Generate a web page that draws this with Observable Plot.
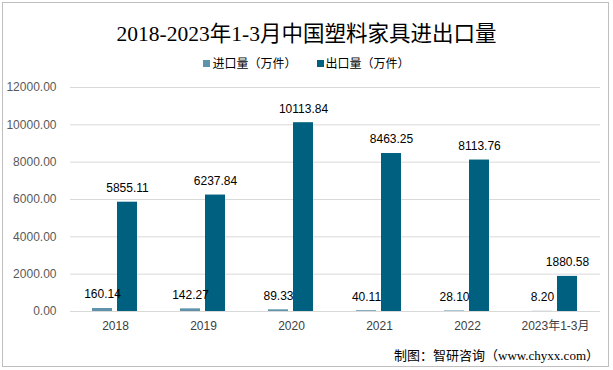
<!DOCTYPE html>
<html><head><meta charset="utf-8">
<script src="https://cdn.jsdelivr.net/npm/d3@7"></script>
<script src="https://cdn.jsdelivr.net/npm/@observablehq/plot@0.6"></script>
<style>
body{margin:0;background:#fff;}
#wrap{position:relative;width:613px;height:370px;overflow:hidden;font-family:"Liberation Sans","Noto Sans CJK SC",sans-serif;}
#frame{position:absolute;left:2px;top:2px;width:605px;height:363px;border:1px solid #bfbfbf;}
#title{position:absolute;left:0;top:16px;width:613px;text-align:center;font-family:"Liberation Serif","Noto Sans CJK SC",serif;font-size:21.5px;color:#000;}
#legend{position:absolute;left:0;top:54px;width:613px;text-align:center;font-size:12px;color:#000;}
#legend span.item{margin:0 10px;}
#legend i{display:inline-block;width:7px;height:7px;margin-right:2px;vertical-align:1px;}
#chart{position:absolute;left:0;top:80px;}
#footer{position:absolute;right:14px;top:345px;font-size:13px;color:#000;font-family:"Liberation Serif","Noto Sans CJK SC",serif;}
</style></head>
<body>
<div id="wrap">
<div id="frame"></div>
<div id="title">2018-2023年1-3月中国塑料家具进出口量</div>
<div id="legend"><span class="item"><i style="background:#5f93ab"></i>进口量（万件）</span><span class="item"><i style="background:#00607f"></i>出口量（万件）</span></div>
<div id="chart"></div>
<div id="footer">制图：智研咨询（www.chyxx.com）</div>
</div>
<script>
const years = ["2018","2019","2020","2021","2022","2023年1-3月"];
const imports = [160.14, 142.27, 89.33, 40.11, 28.10, 8.20];
const exports = [5855.11, 6237.84, 10113.84, 8463.25, 8113.76, 1880.58];
const yTicks = [0, 2000, 4000, 6000, 8000, 10000, 12000];
const importColor = "#5f93ab";
const exportColor = "#00607f";

const imp = years.map((y,i)=>({year:y, value:imports[i]}));
const exp = years.map((y,i)=>({year:y, value:exports[i]}));

const chart = Plot.plot({
  width: 613,
  height: 262,
  marginLeft: 70,
  marginRight: 13,
  marginTop: 7,
  marginBottom: 31,
  style: {fontFamily: "Liberation Sans, Noto Sans CJK SC, sans-serif", fontSize: "12px", color: "#404040", background: "transparent"},
  x: {domain: years, padding: 0, label: null, tickSize: 0, tickPadding: 10},
  y: {domain: [0, 12000], ticks: yTicks, tickFormat: d3.format(".2f"), label: null, tickSize: 0, tickPadding: 14},
  marks: [
    Plot.ruleY(yTicks, {stroke: "#d9d9d9", strokeWidth: 1}),
    Plot.barY(imp, {x: "year", y: "value", fill: importColor, insetLeft: 21, insetRight: 47}),
    Plot.barY(exp, {x: "year", y: "value", fill: exportColor, insetLeft: 46, insetRight: 22}),
    Plot.text(imp, {x: "year", y: "value", text: d => d.value.toFixed(2), dx: -13, dy: -14, fill: "#000", fontSize: 12}),
    Plot.text(exp, {x: "year", y: "value", text: d => d.value.toFixed(2), dx: 12, dy: -14, fill: "#000", fontSize: 12})
  ]
});
chart.querySelectorAll('[aria-label="y-axis tick label"]').forEach(e=>e.setAttribute("fill","#595959"));
document.getElementById("chart").appendChild(chart);
</script>
</body></html>
